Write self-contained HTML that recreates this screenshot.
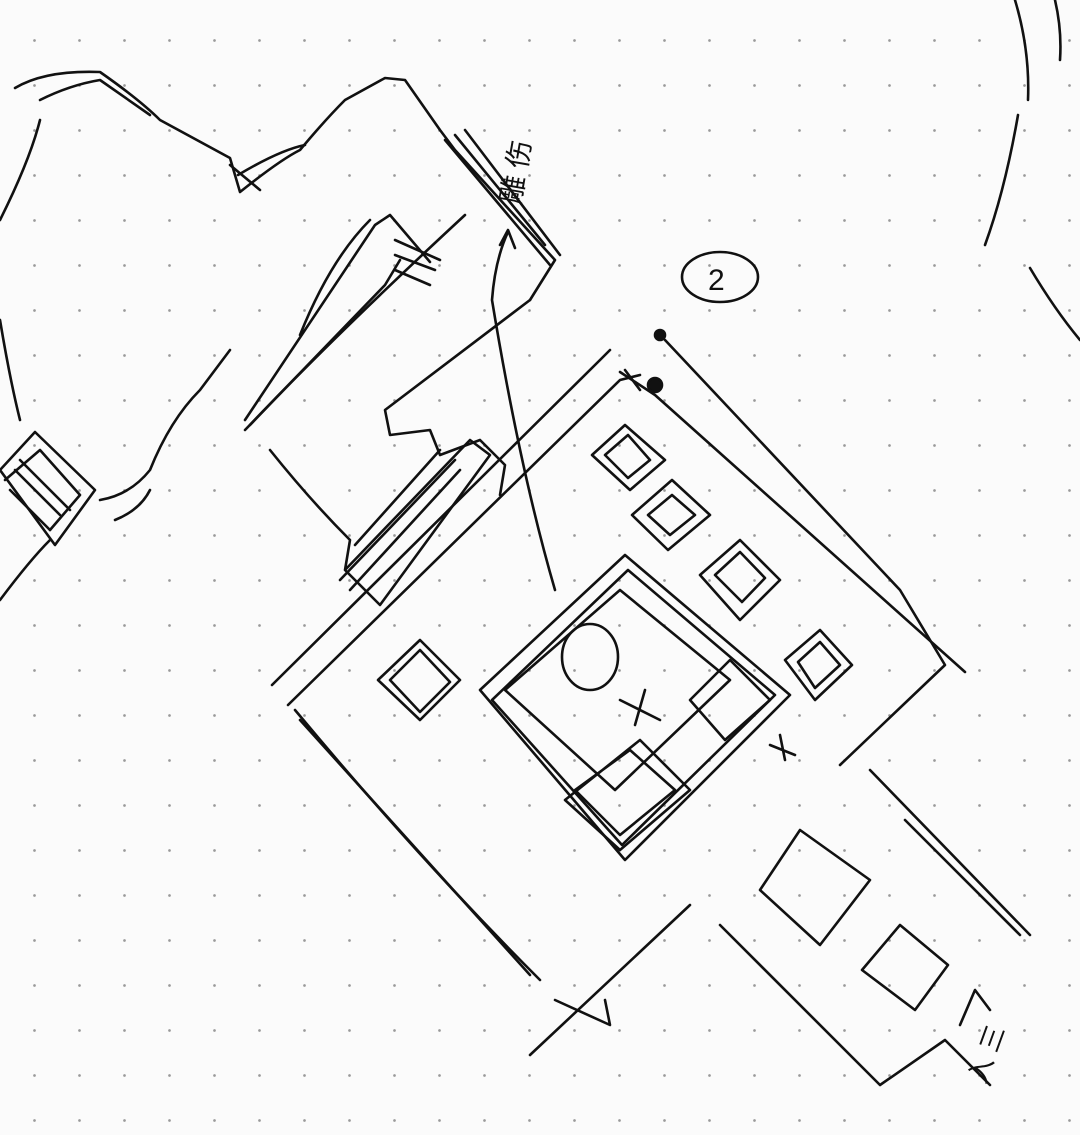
<!DOCTYPE html>
<html><head><meta charset="utf-8"><style>
html,body{margin:0;padding:0;width:1080px;height:1135px;overflow:hidden;background:#fff;}
.bg{position:absolute;left:0;top:0;width:1080px;height:1135px;background-color:#fbfbfb;
background-image:radial-gradient(circle,#9a9a9a 1.1px,transparent 1.6px);background-size:45px 45px;background-position:12px 18px;}
svg{position:absolute;left:0;top:0}
</style></head><body><div class="bg"></div>
<svg width="1080" height="1135" viewBox="0 0 1080 1135" fill="none" stroke="#111" stroke-width="2.6" stroke-linecap="round" stroke-linejoin="round">
<!-- right arcs -->
<path d="M1015 0 Q1030 50 1028 100"/><path d="M1018 115 Q1005 190 985 245"/><path d="M1030 268 Q1055 310 1080 340"/>
<path d="M1055 0 Q1062 30 1060 60"/>
<!-- mountain outline -->
<path d="M15 88 Q45 70 100 72 Q140 100 160 120 L230 158 L240 192 Q280 160 300 150 Q325 120 345 100 L385 78 L405 80 L440 130 L455 150 L555 260 L530 300"/>
<path d="M40 100 Q70 85 100 80 L150 115"/>
<path d="M230 165 L260 190 M238 175 Q280 150 305 145"/>
<path d="M0 220 Q30 160 40 120"/>
<path d="M0 320 Q10 380 20 420"/>
<path d="M0 600 Q30 560 50 540"/>
<path d="M100 500 Q130 495 150 470 Q170 420 200 390 Q215 370 230 350"/>
<path d="M115 520 Q140 510 150 490"/>
<!-- ridge lines -->
<path d="M445 140 L550 265 M455 135 L545 245 M465 130 L560 255"/>
<path d="M245 430 L385 285 L400 260 M245 420 L375 225 L390 215 L430 262 M300 335 Q330 260 370 220"/>
<path d="M250 425 Q330 340 465 215"/>
<path d="M395 240 L440 260 M395 255 L435 270 M395 270 L430 285"/>
<!-- zig stepped building -->
<path d="M530 300 L385 410 L390 435 L430 430 L440 455 L480 440 L505 465 L500 495"/>
<path d="M270 450 Q310 500 350 540 L345 570 L380 605 L490 455 L470 440 L345 570"/>
<path d="M355 545 L440 450 M340 580 L455 460 M350 590 L460 470"/>
<!-- arrow -->
<path d="M555 590 Q520 470 492 300 Q495 260 508 232"/>
<path d="M500 245 L508 230 L515 248"/>
<!-- main big building -->
<path d="M272 685 L600 360 L610 350"/>
<path d="M288 705 L620 380 L640 375"/>
<path d="M620 372 L655 395 L965 672"/>
<path d="M665 340 L900 590 L945 665 L840 765"/>
<path d="M295 710 Q420 860 540 980"/>
<path d="M300 720 L530 975"/>
<path d="M530 1055 L690 905 M555 1000 L610 1025 L605 1000"/>
<circle cx="660" cy="335" r="5" fill="#111"/><circle cx="655" cy="385" r="7" fill="#111"/>
<path d="M625 370 L640 390"/>
<!-- inner square -->
<path d="M480 690 L625 555 L790 695 L625 860 Z"/>
<path d="M492 700 L628 570 L775 695 L622 845 Z"/>
<path d="M505 690 L620 590 L730 680 L615 790 Z"/>
<path d="M565 800 L640 740 L690 790 L620 850 Z M575 790 L630 750 L675 790 L620 835 Z"/>
<path d="M690 700 L730 660 L770 700 L725 740 Z"/>
<path d="M620 700 L660 720 M645 690 L635 725"/>
<ellipse cx="590" cy="657" rx="28" ry="33"/>
<!-- little squares -->
<path d="M378 680 L420 640 L460 680 L420 720 Z M390 680 L420 650 L450 682 L420 712 Z"/>
<path d="M592 455 L625 425 L665 460 L630 490 Z M605 455 L628 435 L650 460 L628 478 Z"/>
<path d="M632 515 L672 480 L710 515 L668 550 Z M648 515 L672 495 L695 515 L670 535 Z"/>
<path d="M700 575 L740 540 L780 580 L740 620 Z M715 575 L740 552 L765 578 L742 602 Z"/>
<path d="M785 660 L820 630 L852 665 L815 700 Z M798 662 L820 642 L840 665 L815 688 Z"/>
<path d="M770 745 L795 755 M780 735 L785 760"/>
<!-- bottom right wing -->
<path d="M870 770 L1030 935"/><path d="M905 820 L1020 935"/>
<path d="M720 925 L880 1085 L945 1040 L990 1085"/>
<path d="M760 890 L800 830 L870 880 L820 945 Z"/>
<path d="M862 970 L900 925 L948 965 L915 1010 Z"/>
<path d="M990 1010 L975 990 L960 1025"/>
<!-- circle 2 -->
<ellipse cx="720" cy="277" rx="38" ry="25"/>
<text x="708" y="290" font-family="Liberation Sans, sans-serif" font-size="30" fill="#111" stroke="none">2</text>
<!-- left hatched box -->
<path d="M0 470 L35 432 L95 490 L55 545 Z M5 480 L40 450 L80 495 L50 530"/>
<path d="M15 470 L60 515 M20 460 L70 510 M10 490 L50 530"/>
<!-- labels -->
<text transform="translate(520,205) rotate(-80)" font-family="Liberation Sans, 'Noto Sans CJK SC', sans-serif" font-size="28" fill="#111" stroke="none">雕 伤</text>
<text transform="translate(985,1085) rotate(-70)" font-family="Liberation Sans, 'Noto Sans CJK SC', sans-serif" font-size="26" fill="#111" stroke="none">入 三</text>
</svg>
</body></html>
